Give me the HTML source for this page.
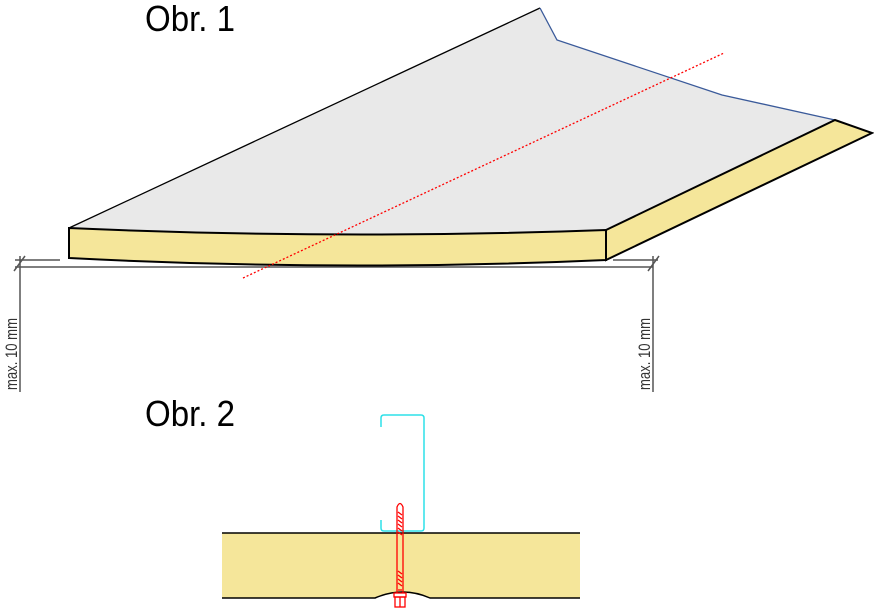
<!DOCTYPE html>
<html><head><style>body{margin:0;background:#fff}svg{display:block}</style></head><body>
<svg width="874" height="610" viewBox="0 0 874 610" xmlns="http://www.w3.org/2000/svg">
<text x="145" y="31" font-family="Liberation Sans, sans-serif" font-size="36" fill="#000" textLength="90" lengthAdjust="spacingAndGlyphs">Obr. 1</text>
<text x="145" y="426" font-family="Liberation Sans, sans-serif" font-size="36" fill="#000" textLength="90" lengthAdjust="spacingAndGlyphs">Obr. 2</text>
<!-- dims -->
<g stroke="#555" stroke-width="1.5" fill="none">
<line x1="20" y1="256" x2="20" y2="392"/>
<line x1="15" y1="260" x2="60" y2="260"/>
<line x1="15" y1="267" x2="653" y2="267"/>
<line x1="14" y1="271" x2="25" y2="256"/>
<line x1="653" y1="256" x2="653" y2="392"/>
<line x1="613" y1="260" x2="658" y2="260"/>
<line x1="648" y1="271" x2="659" y2="256"/>
</g>
<!-- top face -->
<path d="M69,228 L540,8 L557,40 L722,95 L835,120 L606,230 Q340,240 69,228 Z" fill="#e9e9e9" stroke="none"/>
<path d="M69,228 L540,8" stroke="#000" stroke-width="1.3" fill="none"/>
<path d="M540,8 L557,40 L722,95 L835,120" stroke="#3a5a9a" stroke-width="1.3" fill="none"/>
<!-- front face -->
<path d="M69,228 Q340,240 606,230 L606,260 Q340,272 69,258 Z" fill="#f5e69a" stroke="#000" stroke-width="2"/>
<!-- right face -->
<path d="M606,230 L835,120 L872,133 L606,260 Z" fill="#f5e69a" stroke="#000" stroke-width="2"/>
<!-- red dotted -->
<line x1="243" y1="278" x2="724" y2="53" stroke="#f00" stroke-width="1.3" stroke-dasharray="2,2"/>
<text transform="translate(17,390) rotate(-90)" font-family="Liberation Sans, sans-serif" font-size="17" fill="#333" textLength="72" lengthAdjust="spacingAndGlyphs">max. 10 mm</text>
<text transform="translate(650,390) rotate(-90)" font-family="Liberation Sans, sans-serif" font-size="17" fill="#333" textLength="72" lengthAdjust="spacingAndGlyphs">max. 10 mm</text>
<!-- Obr 2 panel -->
<path d="M222,533 L580,533 L580,598 L430,598 Q403,588 375,598 L222,598 Z" fill="#f5e69a"/>
<line x1="222" y1="533" x2="580" y2="533" stroke="#000" stroke-width="1.5"/>
<path d="M222,598 L375,598 Q403,586 430,598 L580,598" stroke="#000" stroke-width="1.5" fill="none"/>
<!-- C profile -->
<path d="M381,427 L381,418 Q381,415 384,415 L421,415 Q424,415 424,418 L424,528 Q424,531 421,531 L384,531 Q381,531 381,528 L381,520" stroke="#2de0e8" stroke-width="1.5" fill="none"/>
<!-- screw -->
<g stroke="#f00" stroke-width="1.3" fill="none">
<path d="M397,593 L397,507 Q400,500 403,507 L403,593"/>
<path d="M398,512 L402,515 M398,516 L402,519 M398,520 L402,523 M398,524 L402,527 M398,528 L402,531 M398,532 L402,535 M398,571 L402,574 M398,575 L402,578 M398,579 L402,582 M398,583 L402,586"/>
<line x1="398" y1="590" x2="402" y2="590"/>
<rect x="394" y="593" width="12" height="4"/>
<rect x="395" y="597" width="10" height="10"/>
<line x1="400" y1="597" x2="400" y2="607"/>
</g>
</svg>
</body></html>
